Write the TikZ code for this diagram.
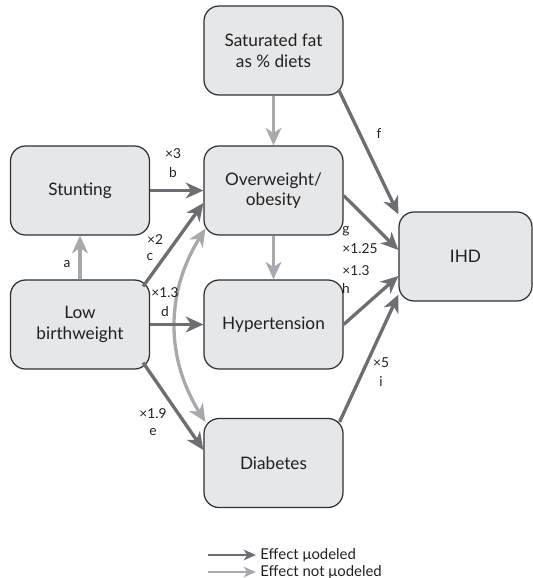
\documentclass[tikz,border=0pt]{standalone}
\usepackage{fontspec}
\setmainfont{Lato}
\usetikzlibrary{arrows.meta}
\definecolor{boxfill}{HTML}{E6E7E8}
\definecolor{boxline}{HTML}{303030}
\definecolor{dkarrow}{HTML}{6D6E71}
\definecolor{ltarrow}{HTML}{A7A9AC}
\definecolor{txtgray}{HTML}{231F20}
\begin{document}
\begin{tikzpicture}[x=0.02cm, y=-0.02cm,
        box/.style={draw=boxline, line width=0.7pt, fill=boxfill, rounded corners=0.3cm,
            minimum width=2.78cm, minimum height=1.78cm, inner sep=0pt, align=center,
            text=txtgray, font=\fontsize{9.8}{11.8}\selectfont},
        lbl/.style={text=txtgray, inner sep=0pt, font=\fontsize{7.8}{9}\selectfont},
        dk/.style={draw=dkarrow, line width=1.9pt, -{Stealth[length=10pt, width=9pt, inset=3pt]}},
        lt/.style={draw=ltarrow, line width=1.9pt, -{Stealth[length=10pt, width=9pt, inset=3pt]}}]
        \useasboundingbox (0, 0) rectangle (533, 578);

        \node[box] (sat) at (273.5, 50.5) {Saturated fat\\as \% diets};
        \node[box] (stu) at (80, 190.5) {Stunting};
        \node[box] (ovw) at (273.5, 190.5) {Overweight/\\obesity};
        \node[box, minimum width=2.66cm] (ihd) at (465.5, 256.5) {IHD};
        \node[box] (lbw) at (80, 324.5) {Low\\birthweight};
        \node[box] (hyp) at (273.5, 324.5) {Hypertension};
        \node[box] (dia) at (273.5, 463) {Diabetes};

        \draw[lt] (lbw) -- (stu);
        \draw[lt] (sat) -- (ovw);
        \draw[lt] (ovw) -- (hyp);
        \draw[lt, {Stealth[length=10pt, width=9pt, inset=3pt]}-{Stealth[length=10pt, width=9pt, inset=3pt]}]
            ([xshift=0.04cm, yshift=0.14cm]ovw.south west) to[bend right=32]
            ([xshift=0.04cm, yshift=-0.08cm]dia.north west);

        \draw[dk] (stu.east) -- (ovw.west);
        \draw[dk] ([xshift=-0.14cm, yshift=-0.14cm]lbw.north east) -- ([yshift=-0.25cm]ovw.west);
        \draw[dk] (lbw.east) -- (hyp.west);
        \draw[dk] ([xshift=-0.14cm, yshift=0.14cm]lbw.south east) -- ([yshift=0.26cm]dia.west);
        \draw[dk] ([xshift=-0.1cm, yshift=0.12cm]sat.south east) -- ([yshift=-0.06cm]ihd.north west);
        \draw[dk] ([yshift=-0.1cm]ovw.east) -- ([yshift=0.13cm]ihd.west);
        \draw[dk] (hyp.east) -- ([yshift=-0.39cm]ihd.west);
        \draw[dk] ([xshift=-0.08cm, yshift=-0.08cm]dia.north east) -- ([yshift=0.14cm]ihd.south west);

        \node[lbl] (la) at (67, 264) {a};
        \node[lbl] (lbx) at (173, 154) {×3};
        \node[lbl] (lb) at (173, 172) {b};
        \node[lbl] (lcx) at (155, 240) {×2};
        \node[lbl] (lc) at (150, 257) {c};
        \node[lbl] (ldx) at (165, 293) {×1.3};
        \node[lbl] (ld) at (165, 311) {d};
        \node[lbl] (lex) at (153, 414) {×1.9};
        \node[lbl] (le) at (153, 432) {e};
        \node[lbl] (lf) at (379, 134) {f};
        \node[lbl] (lg) at (346, 231) {g};
        \node[lbl] (lgx) at (360, 249) {×1.25};
        \node[lbl] (lhx) at (356, 271) {×1.3};
        \node[lbl] (lh) at (346, 288) {h};
        \node[lbl] (lix) at (381, 363) {×5};
        \node[lbl] (li) at (381, 381) {i};

        % legend
        \coordinate (mod1) at (208, 555);
        \coordinate (mod2) at (256, 555);
        \coordinate (nmod1) at (208, 572);
        \coordinate (nmod2) at (256, 572);
        \draw[dk, line width=1.2pt, -{Stealth[length=7pt, width=6pt, inset=2pt]}] (mod1) -- (mod2);
        \draw[lt, line width=1.2pt, -{Stealth[length=7pt, width=6pt, inset=2pt]}] (nmod1) -- (nmod2);
        \node[lbl, anchor=west, font=\fontsize{8.5}{9}\selectfont] (legmod) at (260, 555) {Effect μodeled};
        \node[lbl, anchor=west, font=\fontsize{8.5}{9}\selectfont] (legnmod) at (260, 572) {Effect not μodeled};

    \end{tikzpicture}
\end{document}
